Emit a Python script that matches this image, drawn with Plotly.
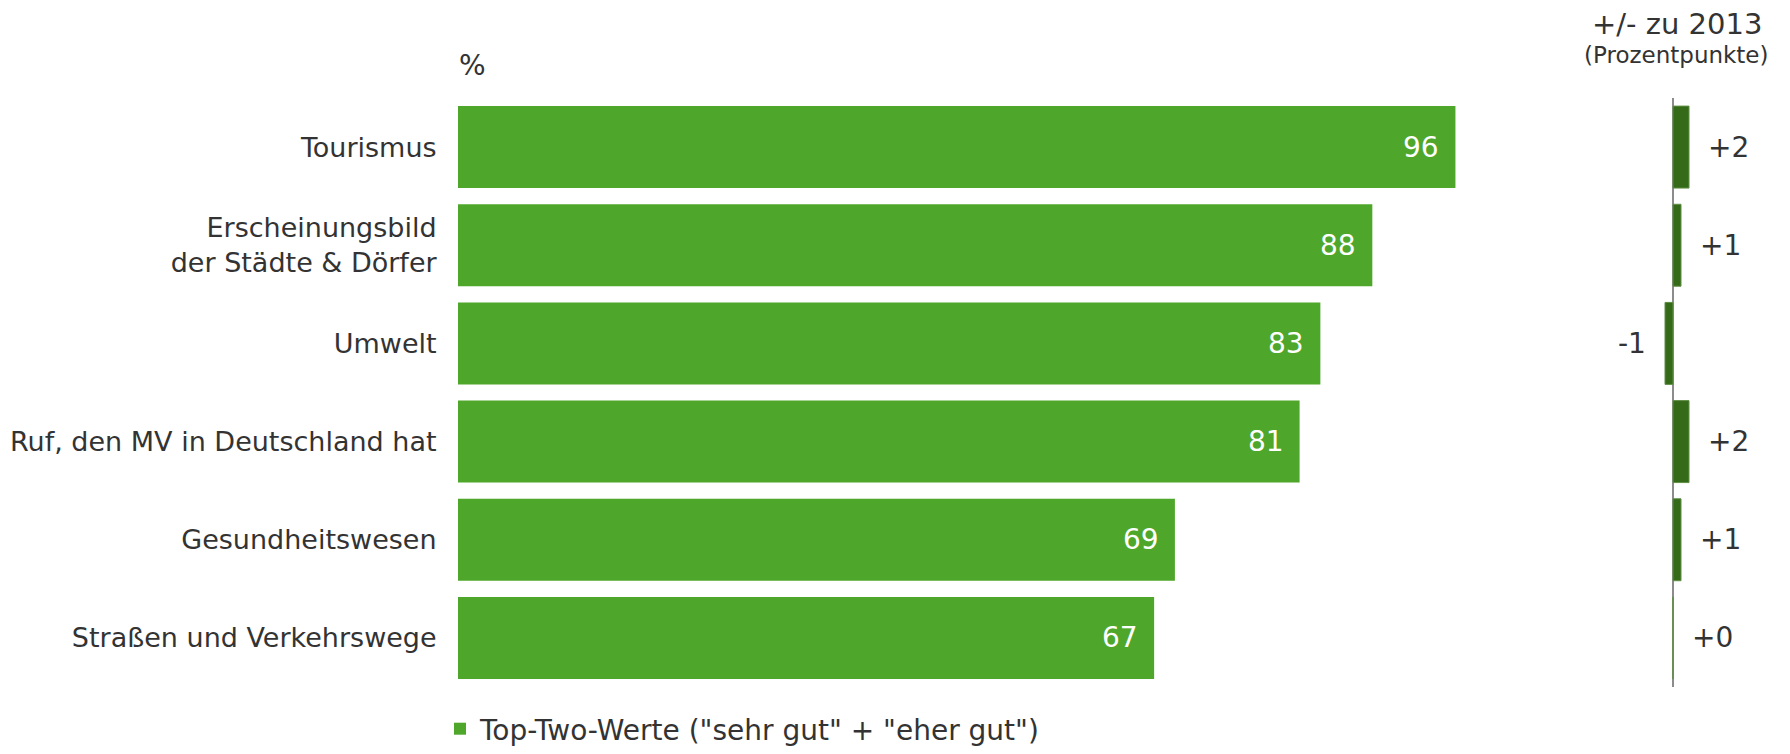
import plotly.graph_objects as go

# chart data
categories = ["Tourismus", "Erscheinungsbild<br>der Städte & Dörfer", "Umwelt",
              "Ruf, den MV in Deutschland hat", "Gesundheitswesen",
              "Straßen und Verkehrswege"]
top_two = [96, 88, 83, 81, 69, 67]
diff_2013 = [2, 1, -1, 2, 1, 0]

# page is 1790x754, the default body margin of 8px sits around the plot
PAD = 8
W, H = 1790 - 2 * PAD, 754 - 2 * PAD
font = "DejaVu Sans, Verdana, sans-serif"
txt = "#333333"
green = "#4ea72a"
dark_green = "#356a18"


def px_x(p):
    return (p - PAD) / W


def px_y(p):
    return 1 - (p - PAD) / H


fig = go.Figure()

fig.add_trace(go.Bar(
    y=categories, x=top_two, orientation="h",
    marker=dict(color=green, line=dict(width=0)),
    name='Top-Two-Werte ("sehr gut" + "eher gut")',
    xaxis="x", yaxis="y", hoverinfo="x+y",
))

fig.add_trace(go.Bar(
    y=categories, x=diff_2013, orientation="h",
    marker=dict(color=dark_green, line=dict(width=1, color="#5f8f45")),
    showlegend=False, xaxis="x2", yaxis="y", hoverinfo="x+y",
))

annotations = []
# values inside the main bars
for c, v in zip(categories, top_two):
    annotations.append(dict(
        x=v, y=c, xref="x", yref="y", text=str(v), showarrow=False,
        xanchor="right", xshift=-14, font=dict(size=28, color="white", family=font)))

# change labels next to the small bars
for c, d in zip(categories, diff_2013):
    label = ("+" if d >= 0 else "") + str(d)
    annotations.append(dict(
        x=d, y=c, xref="x2", yref="y", text=label, showarrow=False,
        xanchor="left" if d >= 0 else "right", xshift=17 if d >= 0 else -17,
        font=dict(size=28, color=txt, family=font)))

annotations += [
    dict(x=px_x(1677), y=px_y(24), xref="paper", yref="paper", text="+/- zu 2013",
         showarrow=False, xanchor="center", yanchor="middle",
         font=dict(size=29, color=txt, family=font)),
    dict(x=px_x(1676), y=px_y(55), xref="paper", yref="paper", text="(Prozentpunkte)",
         showarrow=False, xanchor="center", yanchor="middle",
         font=dict(size=23, color=txt, family=font)),
    dict(x=px_x(457), y=px_y(65), xref="paper", yref="paper", text="%",
         showarrow=False, xanchor="left", yanchor="middle",
         font=dict(size=28, color=txt, family=font)),
]

fig.update_layout(
    width=W, height=H,
    margin=dict(l=0, r=0, t=0, b=0, autoexpand=False),
    paper_bgcolor="white", plot_bgcolor="white",
    font=dict(family=font, size=27, color=txt),
    bargap=0.165,
    showlegend=True,
    legend=dict(orientation="h", x=px_x(440), y=px_y(729), xanchor="left",
                yanchor="middle", font=dict(size=28, color=txt, family=font),
                bgcolor="rgba(0,0,0,0)"),
    xaxis=dict(domain=[px_x(458), px_x(1497)], range=[0, 100], visible=False,
               fixedrange=True, automargin=False),
    xaxis2=dict(domain=[px_x(1633), px_x(1713)], range=[-5, 5], anchor="y",
                showticklabels=False, showgrid=False, zeroline=True,
                zerolinecolor="#8c8c8c", zerolinewidth=2, fixedrange=True,
                automargin=False),
    yaxis=dict(domain=[px_y(687), px_y(98)], autorange="reversed",
               showgrid=False, zeroline=False, showline=False,
               ticks="outside", ticklen=15, tickcolor="rgba(0,0,0,0)",
               tickfont=dict(size=27, color=txt, family=font), fixedrange=True,
               automargin=False),
    annotations=annotations,
)

fig.write_html("out.html")
